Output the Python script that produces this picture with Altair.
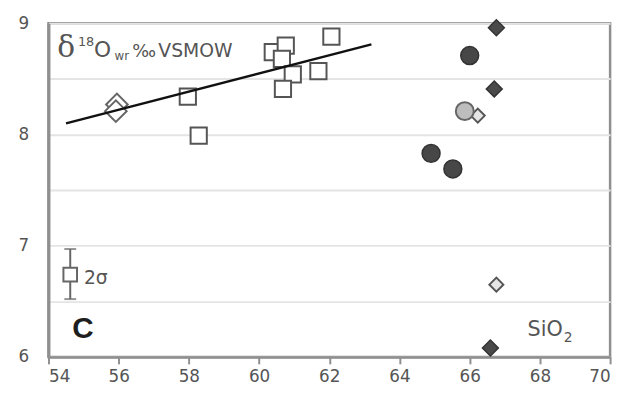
import altair as alt
import pandas as pd

# ---- data ----
sq_x = [57.97, 58.28, 60.39, 60.76, 60.65, 60.96, 60.68, 61.69, 62.06]
sq_y = [8.34, 7.99, 8.74, 8.80, 8.68, 8.54, 8.41, 8.57, 8.88]

odia_x = [55.95, 55.92]
odia_y = [8.27, 8.21]

dcirc_x = [66.00, 64.90, 65.52]
dcirc_y = [8.71, 7.83, 7.69]

lcirc_x = [65.86]
lcirc_y = [8.21]

sdia_x = [66.23, 66.76]
sdia_y = [8.17, 6.65]

ddia_x = [66.76, 66.70, 66.59]
ddia_y = [8.96, 8.41, 6.08]

fit_x = [54.5, 63.2]
fit_y = [8.10, 8.81]

err_x = [54.62]
err_y = [6.74]
err_lo = [6.52]
err_hi = [6.97]

x_ticks = [54, 56, 58, 60, 62, 64, 66, 68, 70]
y_grid = [6, 6.5, 7, 7.5, 8, 8.5, 9]

GRAY = "#8f8f8f"
TXT = "#555555"

xs = alt.Scale(domain=[54, 70], nice=False, zero=False)
ys = alt.Scale(domain=[6, 9], nice=False, zero=False)

X_AXIS = alt.Axis(values=x_ticks, grid=False, title=None,
                  domainColor=GRAY, domainWidth=2.5, tickColor=GRAY, tickWidth=2, tickSize=7,
                  labelColor=TXT, labelFontSize=17, labelPadding=5, labelFont="DejaVu Sans")
Y_AXIS = alt.Axis(values=y_grid, title=None, grid=True,
                  gridColor="#e4e4e4", gridWidth=2, ticks=False,
                  labelExpr="datum.value % 1 == 0 ? format(datum.value, 'd') : ''",
                  domainColor=GRAY, domainWidth=3, labelColor=TXT, labelFontSize=17,
                  labelPadding=20, labelFont="DejaVu Sans")


def X(field="x"):
    return alt.X(f"{field}:Q", scale=xs, axis=X_AXIS)


def Y(field="y"):
    return alt.Y(f"{field}:Q", scale=ys, axis=Y_AXIS)


def df(x, y):
    return pd.DataFrame({"x": x, "y": y})


def pts(x, y, **kw):
    return alt.Chart(df(x, y)).mark_point(filled=True, opacity=1, **kw).encode(x=X(), y=Y())


squares = pts(sq_x, sq_y, shape="square", size=270, fill="white", stroke="#555", strokeWidth=2)
odia = pts(odia_x, odia_y, shape="diamond", size=480, fill="white", stroke="#666", strokeWidth=2)
fit = alt.Chart(df(fit_x, fit_y)).mark_line(color="#111", strokeWidth=2.5).encode(x=X(), y=Y())
sdia = pts(sdia_x, sdia_y, shape="diamond", size=200, fill="#e6e6e6", stroke="#555", strokeWidth=2)
dcirc = pts(dcirc_x, dcirc_y, shape="circle", size=330, fill="#474747", stroke="#333", strokeWidth=1.5)
lcirc = pts(lcirc_x, lcirc_y, shape="circle", size=330, fill="#bdbdbd", stroke="#666", strokeWidth=2)
ddia = pts(ddia_x, ddia_y, shape="diamond", size=260, fill="#4a4a4a", stroke="#333", strokeWidth=1.5)

errdf = pd.DataFrame({"x": err_x, "y": err_y, "lo": err_lo, "hi": err_hi})
err_rule = alt.Chart(errdf).mark_rule(color="#666", strokeWidth=2).encode(x=X(), y=Y("lo"), y2="hi:Q")
err_cap_lo = alt.Chart(errdf).mark_tick(color="#666", thickness=2, size=12, orient="horizontal").encode(
    x=X(), y=Y("lo"))
err_cap_hi = alt.Chart(errdf).mark_tick(color="#666", thickness=2, size=12, orient="horizontal").encode(
    x=X(), y=Y("hi"))
err_pt = alt.Chart(errdf).mark_point(
    shape="square", size=190, filled=True, opacity=1, fill="white", stroke="#666", strokeWidth=2
).encode(x=X(), y=Y())

# ---- annotations (text, position in data units, style) ----
ann_t = ["δ", "18", "O", "wr", "‰", "VSMOW", "2σ", "C", "SiO", "2"]
ann_x = [54.25, 54.84, 55.30, 55.88, 56.39, 57.13, 55.01, 54.98, 67.65, 68.68]
ann_y = [8.70, 8.80, 8.70, 8.67, 8.70, 8.70, 6.66, 6.17, 6.19, 6.13]
ann_sz = [30, 13, 22, 12, 18, 19, 19, 30, 21, 14]
ann_font = ["DejaVu Serif", "DejaVu Sans", "DejaVu Sans", "DejaVu Sans", "DejaVu Sans",
            "DejaVu Sans", "DejaVu Sans", "Liberation Sans", "DejaVu Sans", "DejaVu Sans"]
ann_bold = [False] * 7 + [True, False, False]
ann_col = ["#555"] * 6 + [TXT, "#1e1e1e", TXT, TXT]
ann_align = ["left"] * 7 + ["center", "left", "left"]

texts = []
for i, t in enumerate(ann_t):
    texts.append(
        alt.Chart(pd.DataFrame({"x": [ann_x[i]], "y": [ann_y[i]], "t": [t]})).mark_text(
            baseline="alphabetic", align=ann_align[i], font=ann_font[i],
            fontSize=ann_sz[i], fontWeight="bold" if ann_bold[i] else "normal",
            color=ann_col[i],
        ).encode(x=X(), y=Y(), text="t:N")
    )

chart = alt.layer(
    squares, odia, fit, sdia, lcirc, dcirc, ddia,
    err_rule, err_cap_lo, err_cap_hi, err_pt, *texts
).properties(
    width=569, height=338,
    autosize=alt.AutoSizeParams(type="none"),
    padding={"left": 41, "top": 13, "right": 8, "bottom": 29},
    background="white",
).configure_view(stroke=GRAY, strokeWidth=2.5)

chart.save("out.html", embed_options={"renderer": "svg", "actions": False})
